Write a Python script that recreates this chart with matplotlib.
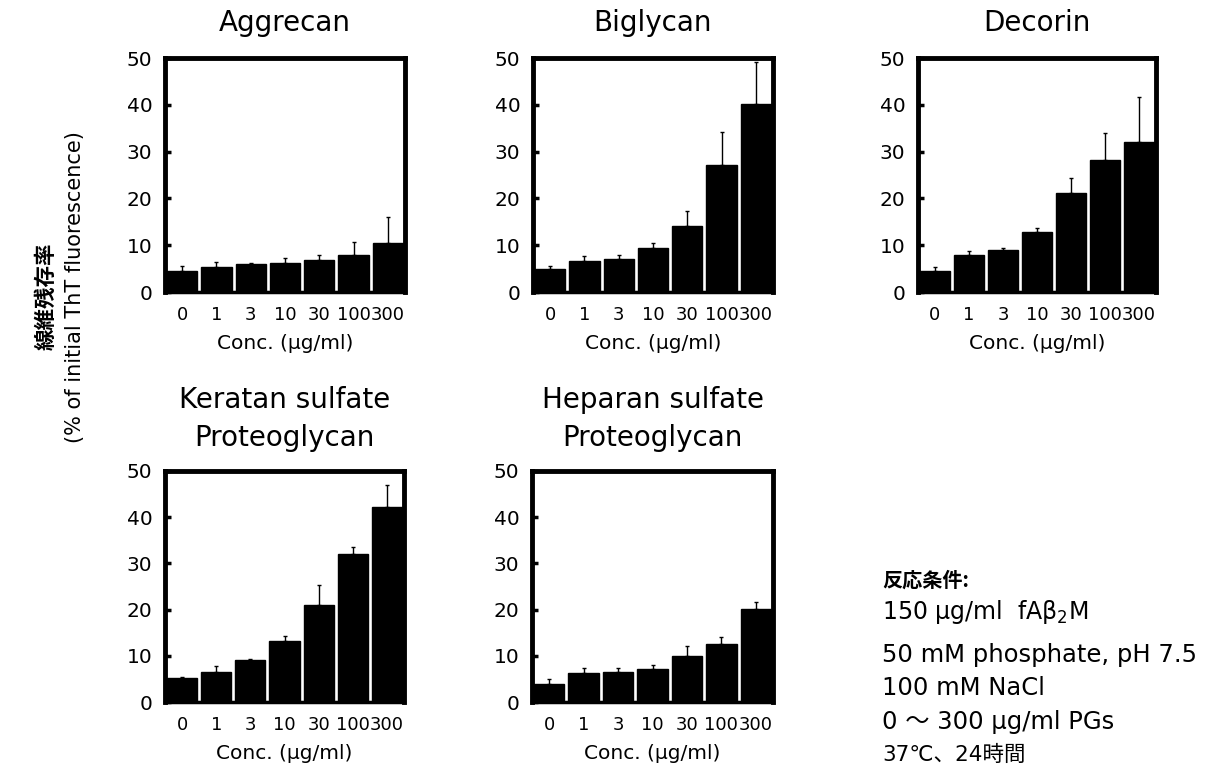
import matplotlib
matplotlib.use('Agg')
import matplotlib.pyplot as plt

# ---------------- data ----------------
conc_labels = ['0', '1', '3', '10', '30', '100', '300']
panel_titles = ['Aggrecan', 'Biglycan', 'Decorin',
                'Keratan sulfate\nProteoglycan', 'Heparan sulfate\nProteoglycan']

aggrecan = [4.5, 5.4, 6.0, 6.3, 6.8, 8.0, 10.4]
aggrecan_err = [1.0, 1.0, 0.3, 1.0, 1.0, 2.6, 5.6]
biglycan = [5.0, 6.7, 7.0, 9.3, 14.2, 27.2, 40.2]
biglycan_err = [0.5, 1.0, 1.0, 1.1, 3.1, 7.0, 9.0]
decorin = [4.4, 8.0, 8.9, 12.8, 21.2, 28.3, 32.0]
decorin_err = [0.9, 0.8, 0.6, 0.8, 3.1, 5.7, 9.7]
keratan = [5.1, 6.6, 9.0, 13.1, 20.9, 32.0, 42.1]
keratan_err = [0.4, 1.1, 0.2, 1.2, 4.4, 1.6, 4.8]
heparan = [4.0, 6.3, 6.5, 7.1, 9.9, 12.5, 20.1]
heparan_err = [0.9, 1.0, 0.9, 0.9, 2.2, 1.5, 1.5]

y_ticks = [0, 10, 20, 30, 40, 50]
xlabel_text = 'Conc. (μg/ml)'
ylabel_jp = '線維残存率'
ylabel_en = '(% of initial ThT fluorescence)'
cond_title = '反応条件:'
cond_lines = ['150 μg/ml  fAβ$_{2}$M', '50 mM phosphate, pH 7.5', '100 mM NaCl',
              '0 ～ 300 μg/ml PGs', '37℃、24時間']

values = [aggrecan, biglycan, decorin, keratan, heparan]
errors = [aggrecan_err, biglycan_err, decorin_err, keratan_err, heparan_err]

# ---------------- figure ----------------
W, H = 1218, 778
fig = plt.figure(figsize=(W / 100, H / 100), dpi=100)
plt.rcParams['font.family'] = ['DejaVu Sans', 'Noto Sans CJK JP']
plt.rcParams['mathtext.fontset'] = 'dejavusans'

lat = ['DejaVu Sans', 'Noto Sans CJK JP']
cjk = ['Noto Sans CJK JP', 'DejaVu Sans']

# axes boxes in pixel coords: (left, top, right, bottom)
boxes = [(165, 58, 405, 292), (533, 58, 773, 292), (918, 58, 1156, 292),
         (165, 471, 404, 702), (532, 471, 773, 702)]
# title line baselines (pixels from top)
title_baselines = [[31], [31], [31], [408, 446], [408, 446]]


def px_rect(l, t, r, b):
    return [l / W, (H - b) / H, (r - l) / W, (b - t) / H]


x = list(range(len(conc_labels)))
for box, vals, errs, title, tb in zip(boxes, values, errors, panel_titles, title_baselines):
    ax = fig.add_axes(px_rect(*box))
    ax.bar(x, vals, width=0.88, color='black', edgecolor='black')
    ax.errorbar(x, vals, yerr=[[0] * len(errs), errs], fmt='none',
                ecolor='black', elinewidth=1, capsize=1.5, capthick=1)
    ax.set_xlim(-0.5, len(x) - 0.5)
    ax.set_ylim(0, 50)
    ax.set_yticks(y_ticks)
    ax.set_yticklabels([str(v) for v in y_ticks], family=lat, fontsize=14.5)
    ax.set_xticks(x)
    ax.set_xticklabels(conc_labels, family=lat, fontsize=13)
    ax.tick_params(axis='y', direction='in', length=4, width=2.5, pad=9)
    ax.tick_params(axis='x', length=0, pad=10)
    for s in ax.spines.values():
        s.set_linewidth(3.5)
    ax.spines['bottom'].set_linewidth(2.5)
    ax.set_xlabel(xlabel_text, family=lat, fontsize=14.5, labelpad=7)
    cx = (box[0] + box[2]) / 2 / W
    for line, yb in zip(title.split('\n'), tb):
        fig.text(cx, 1 - yb / H, line, ha='center', va='baseline',
                 family=lat, fontsize=20)

# y label
fig.text(46 / W, 1 - 296 / H, ylabel_jp, rotation=90, ha='center', va='center',
         family=cjk, fontsize=15.5, fontweight='bold')
fig.text(75 / W, 1 - 287 / H, ylabel_en, rotation=90, ha='center', va='center',
         family=lat, fontsize=15)

# conditions text
fig.text(882 / W, 1 - 580 / H, cond_title, ha='left', va='center',
         family=cjk, fontsize=14.5, fontweight='bold')
ys = [612, 655, 688, 722, 755]
sizes = [17, 17.5, 17.5, 17.5, 15.5]
for yy, txt, sz in zip(ys, cond_lines, sizes):
    fig.text(882 / W, 1 - yy / H, txt, ha='left', va='center',
             family=lat, fontsize=sz)

fig.savefig('out.png', dpi=100)
